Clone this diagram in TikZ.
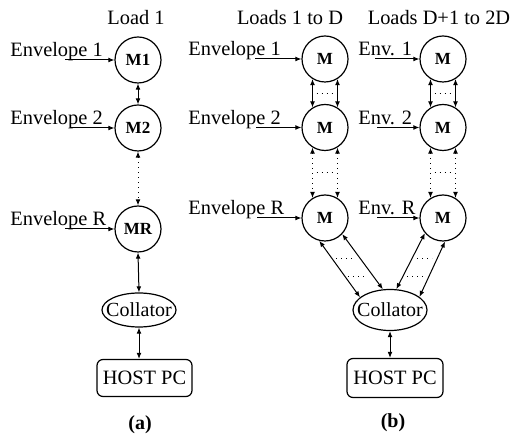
\documentclass[tikz,border=0pt]{standalone}
\usepackage{fontspec}
\setmainfont{Liberation Serif}
\usetikzlibrary{shapes.geometric,arrows.meta,calc}
\begin{document}
\begin{tikzpicture}[x=0.5pt,y=-0.5pt,
  every node/.style={inner sep=0pt},
  mod/.style={circle,draw,line width=0.6pt,minimum size=23pt,font=\fontsize{8.5}{10}\selectfont\bfseries},
  coll/.style={ellipse,draw,line width=0.6pt},
  colltext/.style={font=\fontsize{10}{12}\selectfont},
  host/.style={rectangle,rounded corners=3pt,draw,line width=0.6pt,minimum width=47.5pt,minimum height=18.5pt,font=\fontsize{10.2}{12}\selectfont},
  lbl/.style={anchor=base west,font=\fontsize{10.2}{12}\selectfont},
  ttl/.style={anchor=base,font=\fontsize{10.2}{12}\selectfont},
  capt/.style={font=\fontsize{10}{12}\selectfont\bfseries},
  biarrow/.style={line width=0.5pt,{Latex[length=3pt,width=2.4pt]}-{Latex[length=3pt,width=2.4pt]}},
  inarrow/.style={line width=0.5pt,-{Latex[length=3pt,width=2.4pt]}},
  dotline/.style={line width=0.5pt,dotted}]
\useasboundingbox[fill=white] (0,0) rectangle (513,437);

% ---------- (a) ----------
\node[ttl] (t1) at (136,25) {Load 1};
\node[mod] (M1) at (138,60) {M1};
\node[mod] (M2) at (138,128) {M2};
\node[mod] (MR) at (138,229) {MR};
\node[coll,minimum width=37pt,minimum height=17pt,label={[colltext]center:Collator}] (Ca) at (139,310) {};
\node[host] (Ha) at (144.5,378) {HOST PC};
\node[capt] (la) at (140,425) {(a)};

\node[lbl] (ea1) at (10,57) {Envelope 1};
\node[lbl] (ea2) at (10,125) {Envelope 2};
\node[lbl] (eaR) at (10,226) {Envelope R};
\coordinate (sa1) at (65,60);
\coordinate (sa2) at (70,128);
\coordinate (saR) at (65,229);
\draw[inarrow] (sa1) -- (M1.west);
\draw[inarrow] (sa2) -- (M2.west);
\draw[inarrow] (saR) -- (MR.west);

\draw[biarrow] (M1.south) -- (M2.north);
\draw[biarrow,dotted] (M2.south) -- (MR.north);
\draw[biarrow] (MR.south) -- (Ca.north);
\draw[biarrow] (Ca.south) -- (Ca.south |- Ha.north);

% ---------- (b) ----------
\node[ttl] (t2) at (290,25) {Loads 1 to D};
\node[ttl] (t3) at (439,25) {Loads D+1 to 2D};
\node[mod] (A1) at (325,59) {M};
\node[mod] (A2) at (325,127.5) {M};
\node[mod] (A3) at (325,218) {M};
\node[mod] (B1) at (443,59) {M};
\node[mod] (B2) at (443,127.5) {M};
\node[mod] (B3) at (443,218) {M};
\node[coll,minimum width=37pt,minimum height=20.5pt,label={[colltext]center:Collator}] (Cb) at (390,310) {};
\node[host,minimum width=48pt,minimum height=19.5pt] (Hb) at (395,378) {HOST PC};
\node[capt] (lb) at (393,423) {(b)};

\node[lbl] (eb1) at (188,56) {Envelope 1};
\node[lbl] (eb2) at (188,124.5) {Envelope 2};
\node[lbl] (ebR) at (188,215) {Envelope R};
\coordinate (sb1) at (255,59);
\coordinate (sb2) at (256,127.5);
\coordinate (sbR) at (257,218);
\draw[inarrow] (sb1) -- (A1.west);
\draw[inarrow] (sb2) -- (A2.west);
\draw[inarrow] (sbR) -- (A3.west);

\node[lbl] (ec1) at (358,56) {Env. 1};
\node[lbl] (ec2) at (358,124.5) {Env. 2};
\node[lbl] (ecR) at (358,215) {Env. R};
\coordinate (sc1) at (375,59);
\coordinate (sc2) at (377,127.5);
\coordinate (scR) at (377,218);
\draw[inarrow] (sc1) -- (B1.west);
\draw[inarrow] (sc2) -- (B2.west);
\draw[inarrow] (scR) -- (B3.west);

% vertical links
\foreach \a/\b/\c in {A1/A2/A3,B1/B2/B3}{
  \draw[biarrow] (\a.238) -- (\b.122);
  \draw[biarrow] (\a.302) -- (\b.58);
  \draw[dotline,shorten <=2pt,shorten >=2pt] ($(\a.238)!0.5!(\b.122)$) -- ($(\a.302)!0.5!(\b.58)$);
  \draw[biarrow,dotted] (\b.238) -- (\c.122);
  \draw[biarrow,dotted] (\b.302) -- (\c.58);
  \draw[dotline,shorten <=2pt,shorten >=2pt] ($(\b.238)!0.5!(\c.122)$) -- ($(\b.302)!0.5!(\c.58)$);
}

% links to collator
\draw[biarrow] (A3.256) -- (Cb.157);
\draw[biarrow] (A3.317) -- (Cb.109);
\draw[biarrow] (B3.220) -- (Cb.73);
\draw[biarrow] (B3.275) -- (Cb.24);
\draw[dotline] (336,259) -- (354,259);
\draw[dotline] (348,277) -- (367,277);
\draw[dotline] (417,259) -- (432,259);
\draw[dotline] (407,277) -- (425,277);

\draw[biarrow] (Cb.south) -- (Cb.south |- Hb.north);
\end{tikzpicture}
\end{document}
